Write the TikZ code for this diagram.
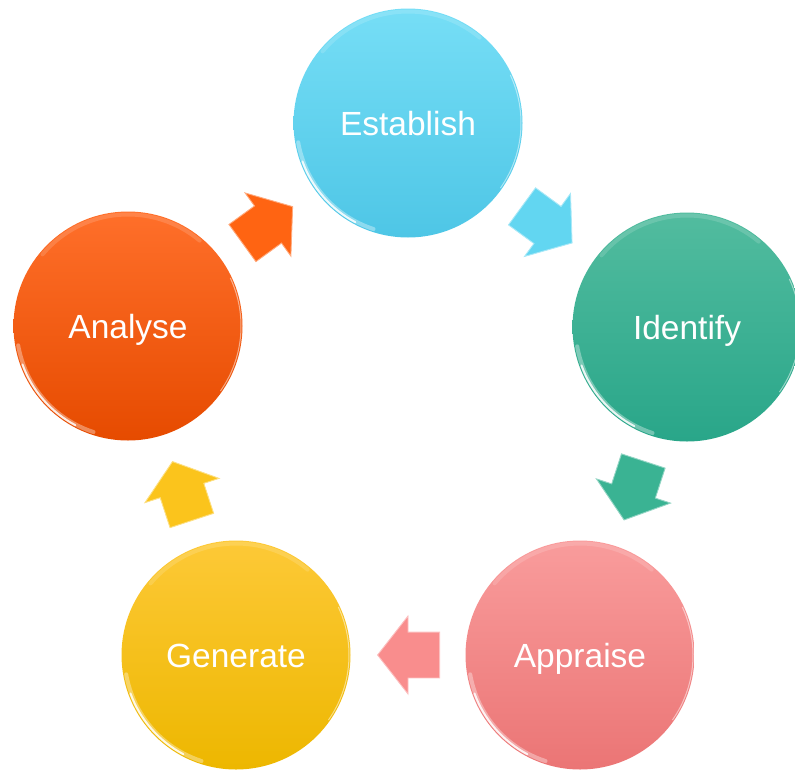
\documentclass[tikz,border=0pt]{standalone}
\usepackage{fontspec}
\setmainfont{Liberation Sans}
\usetikzlibrary{shapes.arrows,calc}
\definecolor{cyanT}{HTML}{76DEF6}
\definecolor{cyanB}{HTML}{4EC6E6}
\definecolor{tealT}{HTML}{52BC9F}
\definecolor{tealB}{HTML}{29A689}
\definecolor{pinkT}{HTML}{F99C9C}
\definecolor{pinkB}{HTML}{EB7575}
\definecolor{yelT}{HTML}{FDC937}
\definecolor{yelB}{HTML}{EDB700}
\definecolor{orT}{HTML}{FF6F2A}
\definecolor{orB}{HTML}{E64B00}
\definecolor{cyanA}{HTML}{62D6F1}
\definecolor{tealA}{HTML}{3AB393}
\definecolor{pinkA}{HTML}{F98D8D}
\definecolor{yelA}{HTML}{FBC41C}
\definecolor{orA}{HTML}{FF6412}
\tikzset{
  stage/.style n args={2}{circle, minimum size=229pt, inner sep=0pt,
    top color=#1, bottom color=#2, text=white,
    text height=24pt, text depth=0pt,
    font=\fontsize{33.5}{40}\selectfont},
  blockarrow/.style={single arrow, minimum height=62pt,
    single arrow head extend=16pt, single arrow tip angle=104,
    inner xsep=0pt, inner ysep=22.5pt, anchor=tip,
    fill=#1, draw=#1!55!white, line width=0.9pt, line join=miter},
  gloss/.style={white, line cap=round},
}
\begin{document}
\begin{tikzpicture}[x=1pt,y=-1pt]
\useasboundingbox (0,0) rectangle (795,769);
\node[stage={cyanT}{cyanB}] (est) at (408,123) {Establish};
\node[stage={tealT}{tealB}] (ide) at (687,327) {Identify};
\node[stage={pinkT}{pinkB}] (app) at (580,655) {Appraise};
\node[stage={yelT}{yelB}] (gen) at (236,655) {Generate};
\node[stage={orT}{orB}] (ana) at (128,326) {Analyse};
\foreach \n in {est,ide,app,gen,ana}{
  \begin{scope}[shift={(\n.center)}, x=1pt, y=1pt]
    \draw[gloss, line width=4pt, opacity=0.35] (190:111.5) arc[start angle=190, end angle=252, radius=111.5];
    \draw[gloss, line width=2pt, opacity=0.85] (200:112.3) arc[start angle=200, end angle=242, radius=112.3];
    \draw[gloss, line width=4pt, opacity=0.15] (50:111.5) arc[start angle=50, end angle=140, radius=111.5];
    \draw[gloss, line width=1pt, opacity=0.5] (-35:113) arc[start angle=-35, end angle=25, radius=113];
  \end{scope}
}
\foreach \a/\b/\c in {est/ide/cyanA, ide/app/tealA, app/gen/pinkA, gen/ana/yelA, ana/est/orA}{
  \coordinate (mid-\a) at ($(\a.center)!0.5!(\b.center)$);
  \path let \p1=($(\b.center)-(\a.center)$), \n1={atan2(\y1,\x1)} in
    node[blockarrow=\c, rotate=\n1] (arr-\a) at ($(mid-\a)!31pt!(\b.center)$) {};
}
\end{tikzpicture}
\end{document}
